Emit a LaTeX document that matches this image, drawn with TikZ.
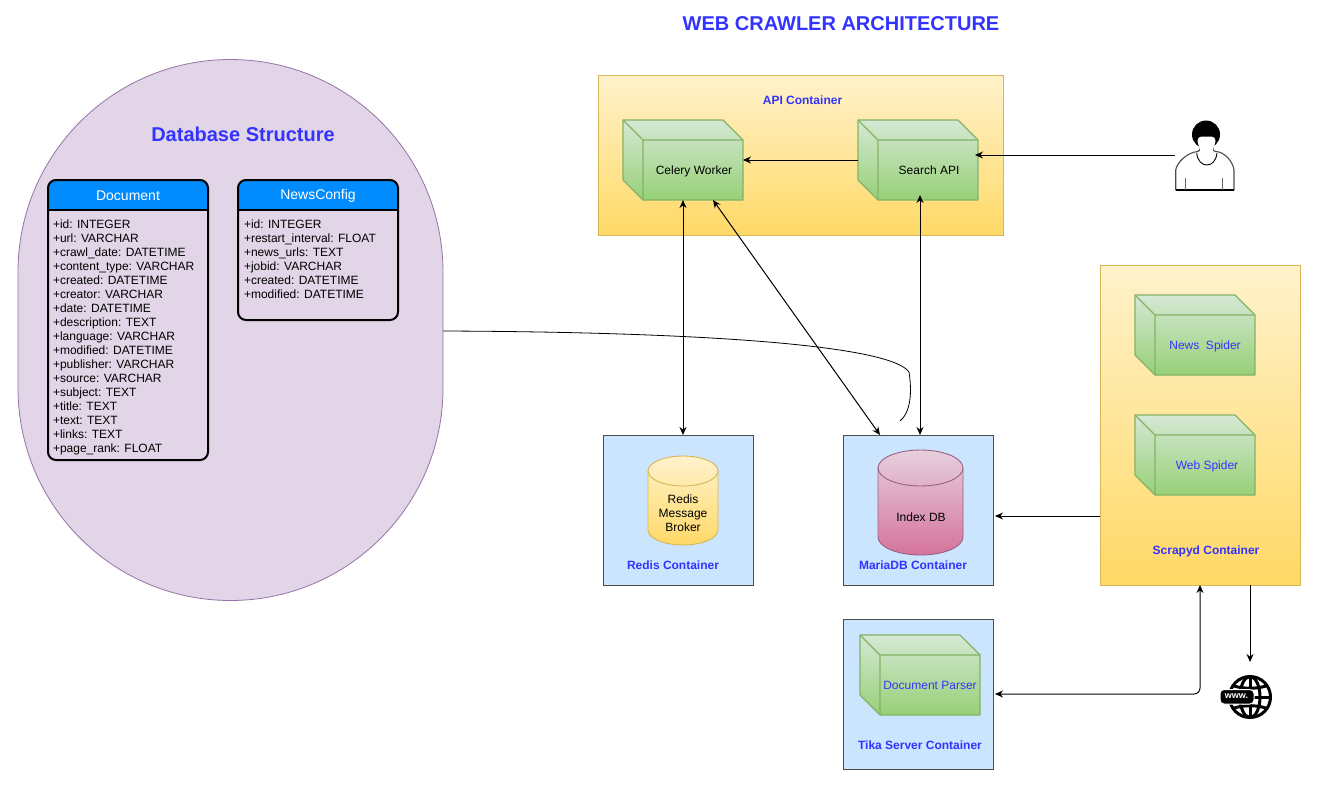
\documentclass[tikz,border=0pt]{standalone}
\usepackage{fontspec}
\setmainfont{Liberation Sans}
\usetikzlibrary{arrows.meta,calc}
\definecolor{ttl}{HTML}{3333FF}
\definecolor{headblue}{HTML}{008CFF}
\definecolor{ybd}{HTML}{D6B656}\definecolor{yt}{HTML}{FFF2CC}\definecolor{yb}{HTML}{FFD966}
\definecolor{gbd}{HTML}{82B366}\definecolor{gt}{HTML}{D5E8D4}\definecolor{gb}{HTML}{97D077}
\definecolor{pbd}{HTML}{996185}\definecolor{pt}{HTML}{E6D0DE}\definecolor{pb}{HTML}{D5739D}
\definecolor{lb}{HTML}{CCE5FF}\definecolor{lav}{HTML}{E1D5E7}\definecolor{lavb}{HTML}{9673A6}
\tikzset{
  every node/.style={inner sep=0pt,outer sep=0pt},
  tip/.style={-{Stealth[length=8pt,width=7pt]}},
  both/.style={{Stealth[length=8pt,width=7pt]}-{Stealth[length=8pt,width=7pt]}},
  conn/.style={draw=black,line width=1pt},
  yellowbox/.style={rectangle,draw=ybd,line width=.8pt,top color=yt,bottom color=yb},
  bluebox/.style={rectangle,draw=black!70,line width=1pt,fill=lb},
  blank/.style={rectangle},
  lbl/.style={font=\fontsize{12}{14}\selectfont\bfseries,text=ttl},
  txt/.style={font=\fontsize{12}{14}\selectfont},
  txtb/.style={font=\fontsize{12}{14}\selectfont,text=ttl},
  rows/.style={font=\fontsize{12}{14}\selectfont,align=left,anchor=north west},
  tbl/.style={rectangle,draw=black,line width=2pt,rounded corners=8pt,fill=none},
  head/.style={font=\fontsize{14}{16}\selectfont,text=white},
}
% name, left, top (120x80 cube of depth 20)
\newcommand{\mycube}[3]{%
  \path[draw=gbd,line width=1.1pt,top color=gt,bottom color=gb,line join=round]
    (#2,#3) -- ++(100,0) -- ++(20,20) -- ++(0,60) -- ++(-100,0) -- ++(-20,-20) -- cycle;
  \draw[gbd,line width=1.1pt,line join=round] (#2,#3) -- ++(20,20) -- ++(100,0) ++(-100,0) -- ++(0,60);
  \node[blank,minimum width=120pt,minimum height=80pt] (#1) at ({#2+60},{#3+40}) {};
}
% name, x1, x2, ytop, ybot, ry, top colour, bottom colour, border
\newcommand{\mycyl}[9]{%
  \pgfmathsetmacro{\cxm}{(#2+#3)/2}\pgfmathsetmacro{\crx}{(#3-#2)*0.276}
  \pgfmathsetmacro{\crk}{#6*0.55}
  \path[draw=#9,line width=.9pt,top color=#7,bottom color=#8]
    (#2,#4+#6) .. controls (#2,#4+#6-\crk) and (\cxm-\crx,#4) .. (\cxm,#4)
    .. controls (\cxm+\crx,#4) and (#3,#4+#6-\crk) .. (#3,#4+#6)
    -- (#3,#5-#6) .. controls (#3,#5-#6+\crk) and (\cxm+\crx,#5) .. (\cxm,#5)
    .. controls (\cxm-\crx,#5) and (#2,#5-#6+\crk) .. (#2,#5-#6) -- cycle;
  \draw[#9,line width=.9pt] (#2,#4+#6) .. controls (#2,#4+#6+\crk) and (\cxm-\crx,#4+2*#6) .. (\cxm,#4+2*#6)
    .. controls (\cxm+\crx,#4+2*#6) and (#3,#4+#6+\crk) .. (#3,#4+#6);
  \node[blank,minimum width=#3pt-#2pt,minimum height=#5pt-#4pt] (#1) at (\cxm,{(#4+#5)/2}) {};
}
\begin{document}
\begin{tikzpicture}[x=1pt,y=-1pt]
\useasboundingbox (0,0) rectangle (1324,787);
\node[font=\fontsize{20}{24}\selectfont\bfseries,text=ttl] (title) at (841,24) {WEB CRAWLER ARCHITECTURE};

% database region
\path[draw=lavb,line width=.8pt,fill=lav] (18,272) arc[start angle=180,end angle=360,radius=212.5]
  -- (443,388) arc[start angle=0,end angle=180,radius=212.5] -- cycle;
\node[blank,minimum width=425pt,minimum height=540pt] (db) at (230.5,330) {};
\node[font=\fontsize{20}{24}\selectfont\bfseries,text=ttl] (dbtitle) at (243,134) {Database Structure};

% tables
\fill[headblue,rounded corners=8pt] (48,210) -- (48,180) -- (208,180) -- (208,210);
\draw[line width=2pt] (48,210) -- (208,210);
\node[tbl,minimum width=160pt,minimum height=280pt] (doc) at (128,320) {};
\node[head] (dochead) at (128,196) {Document};
\node[rows] (docrows) at (53,220) {+id: INTEGER\\+url: VARCHAR\\+crawl\_date: DATETIME\\+content\_type: VARCHAR\\+created: DATETIME\\+creator: VARCHAR\\+date: DATETIME\\+description: TEXT\\+language: VARCHAR\\+modified: DATETIME\\+publisher: VARCHAR\\+source: VARCHAR\\+subject: TEXT\\+title: TEXT\\+text: TEXT\\+links: TEXT\\+page\_rank: FLOAT};

\fill[headblue,rounded corners=8pt] (238,210) -- (238,180) -- (398,180) -- (398,210);
\draw[line width=2pt] (238,210) -- (398,210);
\node[tbl,minimum width=160pt,minimum height=140pt] (news) at (318,250) {};
\node[head] (newshead) at (318,196) {NewsConfig};
\node[rows] (newsrows) at (244,220) {+id: INTEGER\\+restart\_interval: FLOAT\\+news\_urls: TEXT\\+jobid: VARCHAR\\+created: DATETIME\\+modified: DATETIME};

% containers
\node[yellowbox,minimum width=405pt,minimum height=160pt] (api) at (800.5,155) {};
\node[lbl] (apilbl) at (802.5,100) {API Container};
\mycube{celery}{623}{120}
\node[txt] (celerylbl) at (694,171) {Celery Worker};
\mycube{search}{858}{120}
\node[txt] (searchlbl) at (929,170.5) {Search API};

\node[bluebox,minimum width=150pt,minimum height=150pt] (redis) at (678,510) {};
\mycyl{rediscyl}{648}{718}{456}{545}{15}{yt}{yb}{ybd}
\node[txt,align=center] (redistxt) at (683,513) {Redis\\Message\\Broker};
\node[lbl] (redislbl) at (673,565) {Redis Container};

\node[bluebox,minimum width=150pt,minimum height=150pt] (maria) at (918,510) {};
\mycyl{indexdb}{878}{963}{450}{555}{18}{pt}{pb}{pbd}
\node[txt] (indextxt) at (921,517) {Index DB};
\node[lbl] (marialbl) at (913,565) {MariaDB Container};

\node[bluebox,minimum width=150pt,minimum height=150pt] (tika) at (918,694) {};
\mycube{parser}{860}{635}
\node[txtb] (parserlbl) at (930,685) {Document Parser};
\node[lbl] (tikalbl) at (920,745) {Tika Server Container};

\node[yellowbox,minimum width=200pt,minimum height=320pt] (scrapyd) at (1200,425) {};
\mycube{newsspider}{1135}{295}
\node[txtb] (newslbl) at (1205,346) {News\ \ Spider};
\mycube{webspider}{1135}{415}
\node[txtb] (weblbl) at (1207,466) {Web Spider};
\node[lbl] (scrapydlbl) at (1206,551) {Scrapyd Container};

% user
\path[draw=black!70,line width=1.1pt,fill=white,line join=round]
  (1175.7,190) -- (1175.7,170) .. controls (1177,162) and (1188,152) .. (1198,151.5)
  .. controls (1201,151) and (1200,148) .. (1200,146) -- (1213,146) .. controls (1213,149) and (1212,151) .. (1216,151.5)
  .. controls (1225,152) and (1233,162) .. (1234,170) -- (1234,190) -- cycle;
\draw[black,line width=1.1pt] (1175.7,190) -- (1234,190);
\fill[black] (1206,134.5) circle[radius=14];
\path[fill=white] (1197.5,141) .. controls (1198,136) and (1201,136.5) .. (1206.5,136.5)
  .. controls (1212,136.5) and (1215,136) .. (1215.5,141) .. controls (1215,146) and (1212,148) .. (1213,152)
  -- (1200,152) .. controls (1201,148) and (1198,146) .. (1197.5,141) -- cycle;
\draw[black,line width=.9pt] (1196.7,153) .. controls (1197.5,161) and (1202,165) .. (1206.7,165) .. controls (1212,165) and (1216,161) .. (1217,153);
\draw[black!60,line width=.9pt] (1185.7,178) -- (1185.7,190) (1222.3,178) -- (1222.3,190);
\node[blank,minimum width=60pt,minimum height=70pt] (user) at (1205,155) {};

% www globe
\begin{scope}[line width=3pt,black]
\draw (1250,697) circle[radius=20.5];
\draw (1250,697) ellipse[x radius=10pt,y radius=20.5pt];
\draw (1250,677) -- (1250,717);
\draw (1234,686) .. controls (1244,689) and (1256,689) .. (1266,686);
\draw (1234,708) .. controls (1244,705) and (1256,705) .. (1266,708);
\draw (1230,697) -- (1270,697);
\end{scope}
\path[fill=black,draw=white,line width=1pt,rounded corners=4pt] (1220,689.5) rectangle (1254,704);
\node[blank,minimum width=50pt,minimum height=70pt] (www) at (1250,697) {};
\node[font=\fontsize{9}{10}\selectfont\bfseries,text=white] (wwwtxt) at (1236.5,696.5) {www.};

% connectors
\coordinate (curveend) at (900,421);
\coordinate (tikacorner) at (scrapyd.south |- tika.east);
\draw[conn,tip] (search.west |- celery.center) -- (celery.east);
\draw[conn,tip] (user.west) -- ([xshift=-3pt]search.east |- user.west);
\draw[conn,both] (celery.south) -- (redis.north -| celery.south);
\draw[conn,both] ([xshift=30pt]celery.south) -- ([xshift=-38pt]maria.north);
\draw[conn,both] ([xshift=2pt,yshift=5pt]search.south) -- ([xshift=2pt]maria.north);
\draw[conn,tip] ([yshift=-91pt]scrapyd.west) -- ([xshift=2pt,yshift=-6pt]maria.east);
\draw[conn,both,rounded corners=6pt] (scrapyd.south) -- (tikacorner) -- ([xshift=2pt]tika.east);
\draw[conn,tip] ([xshift=50pt]scrapyd.south) -- ([xshift=50pt]scrapyd.south |- www.north);
\draw[line width=.8pt,black] (db.east |- 0,331) .. controls (700,332) and (890,345) .. (909,372)
  .. controls (911,385) and (913,410) .. (curveend);
\end{tikzpicture}
\end{document}
